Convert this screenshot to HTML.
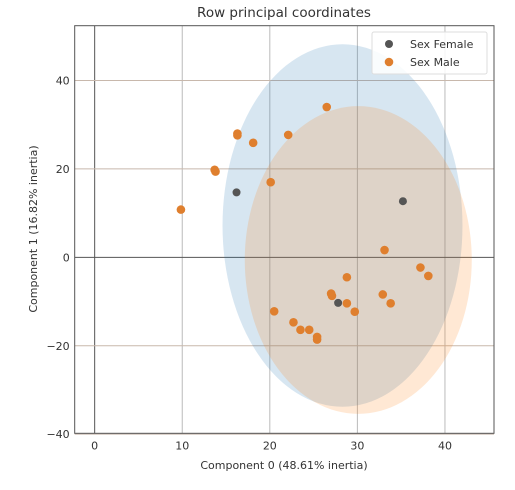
<!DOCTYPE html>
<html><head><meta charset="utf-8"><style>
body{margin:0;background:#fff;font-family:"Liberation Sans","DejaVu Sans",sans-serif;}
svg text{font-family:"DejaVu Sans","Liberation Sans",sans-serif;fill:#333;}
</style></head><body>
<svg id="chart" width="515" height="485" xmlns="http://www.w3.org/2000/svg">
<rect width="515" height="485" fill="#fff"/>
<text x="284" y="17" font-size="13.5" text-anchor="middle">Row principal coordinates</text>
<g id="plot"></g>
<text x="284" y="469" font-size="11" text-anchor="middle">Component 0 (48.61% inertia)</text>
<text x="0" y="0" font-size="11" text-anchor="middle" transform="translate(37,229) rotate(-90)">Component 1 (16.82% inertia)</text>
</svg>
<script>
const xTicks=[0,10,20,30,40];
const yTicks=[-40,-20,0,20,40];
const femaleX=[16.2,35.2,27.8];
const femaleY=[14.7,12.7,-10.3];
const maleX=[26.5,16.3,18.1,22.1,13.7,13.8,20.1,9.85,33.1,37.2,38.1,28.8,27.0,27.1,28.8,29.7,32.9,33.8,20.5,22.7,23.5,24.5,25.4,25.4,16.3];
const maleY=[34.0,28.0,25.9,27.7,19.8,19.4,17.0,10.8,1.65,-2.3,-4.2,-4.5,-8.2,-8.7,-10.4,-12.3,-8.4,-10.4,-12.2,-14.7,-16.4,-16.4,-18.0,-18.6,27.6];
const ellipseCx=[28.3,30.1];
const ellipseCy=[7.2,-0.6];
const ellipseRx=[13.7,12.96];
const ellipseRy=[41,34.8];

const L=74.7,R=494,T=25.7,B=433.3;
const xmin=-2.28,xmax=45.6,ymin=-39.8,ymax=52.4;
const sx=v=>L+(v-xmin)/(xmax-xmin)*(R-L);
const sy=v=>B-(v-ymin)/(ymax-ymin)*(B-T);
const fmt=v=>v<0?'\u2212'+Math.abs(v):String(v);
const NS="http://www.w3.org/2000/svg";
const g=document.getElementById('plot');
function mk(t,a,p){const e=document.createElementNS(NS,t);for(const k in a)e.setAttribute(k,a[k]);(p||g).appendChild(e);return e;}

xTicks.forEach(v=>{
  const l=mk('line',{x1:sx(v),x2:sx(v),y1:T,y2:B,stroke:v===0?'#555':'#bbb','stroke-width':1});
  
  
  const t=mk('text',{x:sx(v),y:B+16,'font-size':11,'text-anchor':'middle'});
  t.textContent=fmt(v);
  
  
});
yTicks.forEach(v=>{
  const l=mk('line',{x1:L,x2:R,y1:sy(v),y2:sy(v),stroke:v===0?'#555':'#c8b8ac','stroke-width':1});
  
  
  const t=mk('text',{x:L-5,y:sy(v)+4,'font-size':11,'text-anchor':'end'});
  t.textContent=fmt(v);
  
  
});
const ecol=['rgba(31,119,180,0.18)','rgba(255,127,14,0.18)'];
ellipseCx.forEach((c,i)=>{
  const e=mk('ellipse',{cx:sx(c),cy:sy(ellipseCy[i]),rx:ellipseRx[i]*(R-L)/(xmax-xmin),ry:ellipseRy[i]*(B-T)/(ymax-ymin),fill:ecol[i]});
  
  
});
femaleX.forEach((x,i)=>{
  const c=mk('circle',{cx:sx(x),cy:sy(femaleY[i]),r:4,fill:'#555'});
  
  
});
maleX.forEach((x,i)=>{
  const c=mk('circle',{cx:sx(x),cy:sy(maleY[i]),r:4.3,fill:'#df7f2e'});
  
  
});
const fr=mk('rect',{x:L,y:T,width:R-L,height:B-T,fill:'none',stroke:'#555','stroke-width':1});


const lg=mk('g',{});


mk('rect',{x:372,y:32,width:115,height:42,rx:2,fill:'rgba(255,255,255,0.85)',stroke:'#ddd'},lg);
const c1=mk('circle',{cx:389,cy:44,r:4,fill:'#555'},lg);


const t1=mk('text',{x:410,y:48,'font-size':11},lg);t1.textContent='Sex Female';


const c2=mk('circle',{cx:389,cy:62,r:4.3,fill:'#df7f2e'},lg);


const t2=mk('text',{x:410,y:66,'font-size':11},lg);t2.textContent='Sex Male';


</script>
</body></html>
